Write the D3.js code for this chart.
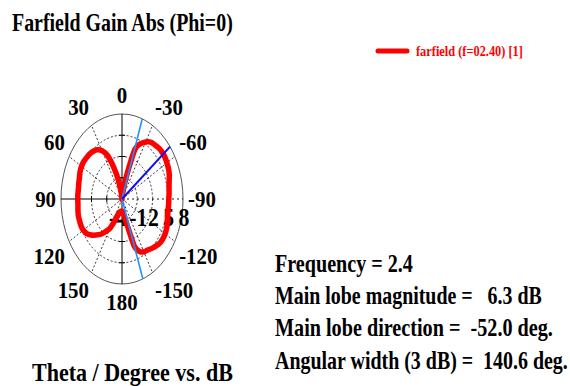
<!DOCTYPE html>
<html>
<head>
<meta charset="utf-8">
<script src="https://cdn.jsdelivr.net/npm/d3@7"></script>
<style>
  body { margin: 0; background: #fff; }
  text { font-family: "Liberation Serif", "Times New Roman", serif; font-weight: bold; white-space: pre; }
</style>
</head>
<body>
<div id="polarChart"></div>
<script>
// farfield gain (dB) sampled along theta (deg)
var thetaValues = [-180, -175, -170, -165, -160, -155, -150, -145, -140, -135, -130, -125,
                   -120, -115, -110, -105, -100, -95, -90, -85, -80, -75, -70, -65,
                   -60, -55, -50, -45, -40, -35, -30, -25, -20, -15, -10, -5,
                   0, 5, 10, 15, 20, 25, 30, 35, 40, 45, 50, 55,
                   60, 65, 70, 75, 80, 85, 90, 95, 100, 105, 110, 115,
                   120, 125, 130, 135, 140, 145, 150, 155, 160, 165, 170, 175];
var gainValues = [-2.3, -2.1, -1.6, -0.3, 3.1, 4.2, 4.6, 4.8, 5.1, 5.4, 5.7, 5.8,
                  5.8, 5.7, 5.5, 5.3, 5.2, 5.2, 5.2, 5.3, 5.4, 5.6, 5.9, 6.1,
                  6.2, 6.3, 6.3, 6.2, 6.0, 5.8, 5.3, 4.6, 3.5, -0.7, -3.0, -4.0,
                  -4.0, -4.0, -3.0, -1.2, 0.8, 2.8, 3.9, 4.5, 4.8, 5.0, 5.1, 5.2,
                  5.2, 5.1, 4.9, 4.8, 4.7, 4.7, 4.7, 4.7, 4.8, 4.9, 4.9, 4.9,
                  4.8, 4.5, 3.9, 3.2, 2.5, 1.6, 0.8, -0.6, -1.7, -2.0, -2.2, -2.3];
var angleTicks = [0, 30, 60, 90, 120, 150, 180, -150, -120, -90, -60, -30];
var radialTicks = [-4, -1, 2, 5, 8];
var mainLobeDirection = -52.0;
var beamEdges = [-19.4, -160.0];
var infoLines = ["Frequency = 2.4",
                 "Main lobe magnitude =   6.3 dB",
                 "Main lobe direction =  -52.0 deg.",
                 "Angular width (3 dB) =  140.6 deg."];
var infoWidths = [138, 267, 278, 293];
var legendLabel = "farfield (f=02.40) [1]";
var titleText = "Farfield Gain Abs (Phi=0)";
var axisTitle = "Theta / Degree vs. dB";

function fitText(sel, x, y, width) {                  // squeeze text horizontally to the given width
    sel.each(function(d, i) {
        var t = d3.select(this);
        var wd = typeof width === "function" ? width(d, i) : width;
        var yy = typeof y === "function" ? y(d, i) : y;
        var s = wd / this.getComputedTextLength();
        t.attr("transform", "translate(" + x + "," + yy + ") scale(" + s + ",1)");
    });
}

function polarChart() {
    var w = 570, h = 386;
    var cx = 122, cy = 199, rx = 61, ry = 85;          // plot is squashed into an ellipse

    var rScale = d3.scaleLinear()
                    .domain(d3.extent(radialTicks))
                    .range([0, 1])
                    .clamp(true);

    function px(theta, v) { return cx - rx * rScale(v) * Math.sin(theta * Math.PI / 180); }
    function py(theta, v) { return cy - ry * rScale(v) * Math.cos(theta * Math.PI / 180); }

    var svg = d3.select("#polarChart")
                .append("svg")
                .attr("width", w)
                .attr("height", h);

    svg.append("text")
        .attr("font-size", 25)
        .text(titleText)
        .call(fitText, 12, 31, 221);

    // legend
    svg.append("line")
        .attr("x1", 378).attr("x2", 407)
        .attr("y1", 51).attr("y2", 51)
        .attr("stroke", "#ff0000").attr("stroke-width", 5)
        .attr("stroke-linecap", "round");
    svg.append("text")
        .attr("font-size", 15).attr("fill", "#ff0000")
        .text(legendLabel)
        .call(fitText, 416, 56, 107);

    // grid rings
    var inner = radialTicks.slice(1, -1);
    svg.append("g").selectAll("ellipse")
        .data(inner)
        .enter().append("ellipse")
        .attr("cx", cx).attr("cy", cy)
        .attr("rx", function(d) { return rx * rScale(d); })
        .attr("ry", function(d) { return ry * rScale(d); })
        .attr("fill", "none").attr("stroke", "#222")
        .attr("stroke-width", 0.9).attr("stroke-dasharray", "2,2");

    // dashed spokes
    var spokes = angleTicks.filter(function(a) { return a % 90 != 0; });
    svg.append("g").selectAll("line")
        .data(spokes)
        .enter().append("line")
        .attr("x1", cx).attr("y1", cy)
        .attr("x2", function(d) { return px(d, 8); })
        .attr("y2", function(d) { return py(d, 8); })
        .attr("stroke", "#222").attr("stroke-width", 0.9).attr("stroke-dasharray", "2,2");

    svg.append("ellipse")
        .attr("cx", cx).attr("cy", cy).attr("rx", rx).attr("ry", ry)
        .attr("fill", "none").attr("stroke", "#555").attr("stroke-width", 1);

    // axes
    svg.append("line")
        .attr("x1", cx).attr("y1", cy - ry).attr("x2", cx).attr("y2", cy + ry)
        .attr("stroke", "#000").attr("stroke-width", 1);
    svg.append("line")
        .attr("x1", cx - rx).attr("y1", cy).attr("x2", cx).attr("y2", cy)
        .attr("stroke", "#000").attr("stroke-width", 1.2);
    svg.append("line")
        .attr("x1", cx).attr("y1", cy).attr("x2", cx + rx).attr("y2", cy)
        .attr("stroke", "#000").attr("stroke-width", 0.9).attr("stroke-dasharray", "2,3");

    var tickG = svg.append("g").attr("stroke", "#000").attr("stroke-width", 1);
    inner.forEach(function(d) {
        var dx = rx * rScale(d), dy = ry * rScale(d);
        tickG.append("line").attr("x1", cx - dx).attr("x2", cx - dx).attr("y1", cy - 3).attr("y2", cy + 3);
        tickG.append("line").attr("x1", cx - 3).attr("x2", cx + 3).attr("y1", cy - dy).attr("y2", cy - dy);
        tickG.append("line").attr("x1", cx - 3).attr("x2", cx + 3).attr("y1", cy + dy).attr("y2", cy + dy);
    });

    // angle labels, anchored on an outer ellipse
    svg.append("g").selectAll("g")
        .data(angleTicks)
        .enter().append("g")
        .attr("transform", function(d) {
            var a = d * Math.PI / 180, s = Math.sin(a), c = Math.cos(a);
            var y = cy - 93 * c + (c > 0.01 ? -3 : c < -0.01 ? 18 : 8);
            return "translate(" + (cx - 66 * s) + "," + y + ") scale(0.87,1)";
        })
        .append("text")
        .attr("text-anchor", function(d) {
            var s = Math.sin(d * Math.PI / 180);
            return s > 0.01 ? "end" : s < -0.01 ? "start" : "middle";
        })
        .attr("font-size", 24)
        .text(function(d) { return d; });

    // radial labels, the centre one sits under the pattern
    svg.append("g").selectAll("g")
        .data(radialTicks)
        .enter().append("g")
        .attr("transform", function(d, i) {
            var x = i == 0 ? cx + 5 : cx + rx * rScale(d) + 1;
            return "translate(" + x + ",226) scale(0.87,1)";
        })
        .append("text")
        .attr("text-anchor", function(d, i) { return i == 0 ? "end" : "middle"; })
        .attr("font-size", 25)
        .text(function(d) { return d; });

    // pattern
    var points = thetaValues.map(function(t, i) { return [t, gainValues[i]]; });
    var pattern = d3.line()
                    .x(function(d) { return px(d[0], d[1]); })
                    .y(function(d) { return py(d[0], d[1]); })
                    .curve(d3.curveCardinalClosed.tension(0.3));

    svg.append("path")
        .datum(points)
        .attr("d", pattern)
        .attr("fill", "none").attr("stroke", "#ff0000")
        .attr("stroke-width", 5.5).attr("stroke-linejoin", "round");

    // 3 dB edges and main lobe
    svg.append("g").selectAll("line")
        .data(beamEdges)
        .enter().append("line")
        .attr("x1", cx).attr("y1", cy)
        .attr("x2", function(d) { return px(d, 8); })
        .attr("y2", function(d) { return py(d, 8); })
        .attr("stroke", "#1e90ff").attr("stroke-width", 1.6);

    svg.append("line")
        .attr("x1", cx).attr("y1", cy)
        .attr("x2", px(mainLobeDirection, 8)).attr("y2", py(mainLobeDirection, 8))
        .attr("stroke", "#1010ee").attr("stroke-width", 2);

    svg.append("text")
        .attr("font-size", 25)
        .text(axisTitle)
        .call(fitText, 32, 381, 201);

    svg.append("g").selectAll("text")
        .data(infoLines)
        .enter().append("text")
        .attr("font-size", 26)
        .text(function(d) { return d; })
        .call(fitText, 275, function(d, i) { return 272 + i * 32.2; }, function(d, i) { return infoWidths[i]; });
}

polarChart();
</script>
</body>
</html>
